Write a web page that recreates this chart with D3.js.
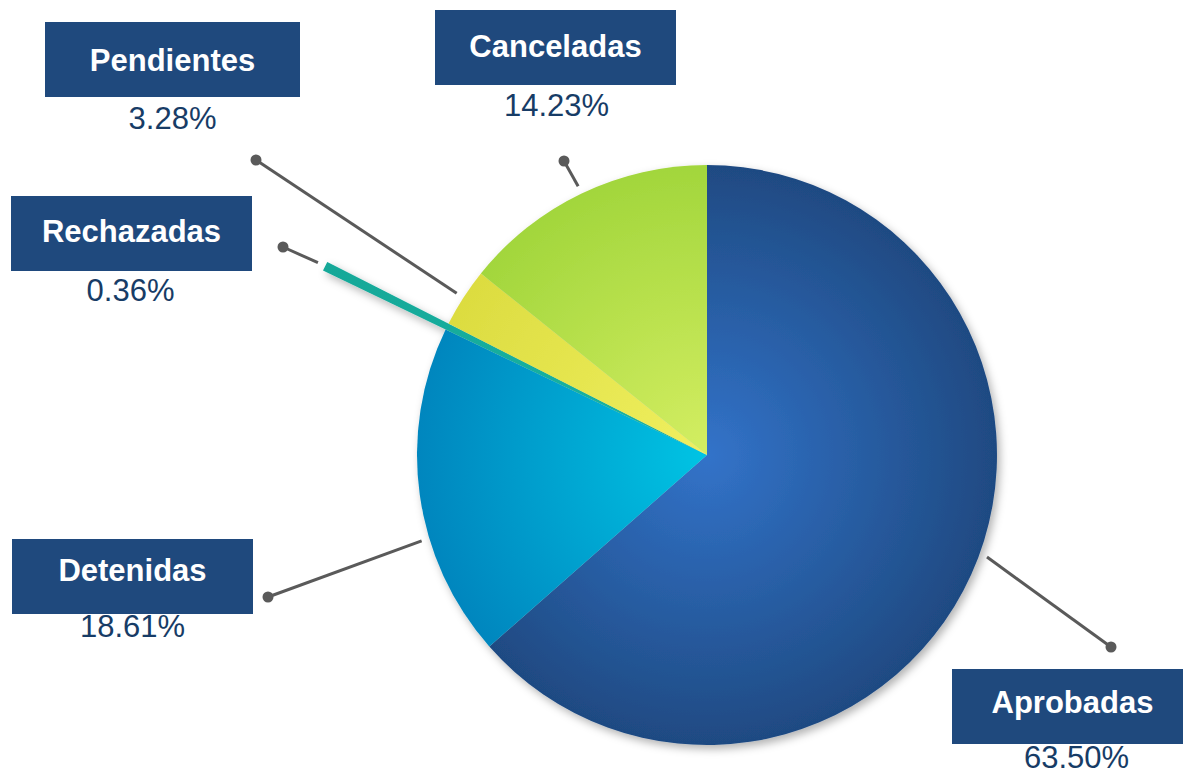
<!DOCTYPE html>
<html>
<head>
<meta charset="utf-8">
<script src="https://cdn.jsdelivr.net/npm/d3@7/dist/d3.min.js"></script>
<style>
  html, body { margin: 0; padding: 0; background: #ffffff; }
  svg { display: block; }
  text { font-family: "Liberation Sans", Arial, sans-serif; }
</style>
</head>
<body>
<svg id="chart" width="1183" height="773"></svg>
<script>
// Request status shares (%), clockwise from 12 o'clock
const categories = ["Aprobadas", "Detenidas", "Rechazadas", "Pendientes", "Canceladas"];
const values = [63.50, 18.61, 0.36, 3.28, 14.23];
const valueLabels = ["63.50%", "18.61%", "0.36%", "3.28%", "14.23%"];

// Slice fills: inner / outer stops of each radial gradient
const innerColors = ["#3273c9", "#00c4e4", "#18b4a4", "#f0f060", "#d4ee62"];
const outerColors = ["#1f4a82", "#0086be", "#12a898", "#dcdc40", "#a2d63c"];

// Annotation layout: label box, text offsets, leader anchor (angle nudge) and dot
const labelLayout = [
  { box: [952, 669, 241, 75], nameDy: 44, pctDy: 99, pctDx: 4,  nudge: -4.3, dot: [1111, 647] },
  { box: [12, 539, 241, 75],  nameDy: 42, pctDy: 98, pctDx: 0,  nudge: -8.9, dot: [268, 597] },
  { box: [11, 196, 241, 75],  nameDy: 46, pctDy: 105, pctDx: -1, nudge: 0,    dot: [283, 247] },
  { box: [45, 22, 255, 75],   nameDy: 49, pctDy: 107, pctDx: 0,  nudge: 0,    dot: [256, 160] },
  { box: [435, 10, 241, 75],  nameDy: 47, pctDy: 106, pctDx: 1,  nudge: 0,    dot: [564, 161] }
];

const highlightIndex = 2;   // Rechazadas is drawn reaching past the rim
const highlightExtra = 136;

const svg = d3.select("#chart");
const cx = 707, cy = 455, R = 290;

const defs = svg.append("defs");
const shadow = defs.append("filter").attr("id", "pieShadow")
  .attr("x", "-20%").attr("y", "-20%").attr("width", "140%").attr("height", "140%");
shadow.append("feDropShadow")
  .attr("dx", 3).attr("dy", 4).attr("stdDeviation", 4)
  .attr("flood-color", "#000").attr("flood-opacity", 0.3);

// Gradients live in the pie group's own coordinates (origin = pie centre)
categories.forEach((c, i) => {
  const g = defs.append("radialGradient")
    .attr("id", "grad" + i)
    .attr("gradientUnits", "userSpaceOnUse")
    .attr("cx", 0).attr("cy", 0).attr("r", i === highlightIndex ? R + highlightExtra : R);
  g.append("stop").attr("offset", "0%").attr("stop-color", innerColors[i]);
  g.append("stop").attr("offset", "100%").attr("stop-color", outerColors[i]);
});

const pie = d3.pie().sort(null).value(d => d.value);
const data = pie(categories.map((c, i) => ({ name: c, value: values[i], label: valueLabels[i], idx: i })));
const arc = d3.arc().innerRadius(0)
  .outerRadius(d => d.data.idx === highlightIndex ? R + highlightExtra : R);

const pieG = svg.append("g")
  .attr("transform", `translate(${cx},${cy})`)
  .attr("filter", "url(#pieShadow)");

pieG.selectAll("path.slice")
  .data(data)
  .join("path")
  .attr("class", "slice")
  .attr("d", arc)
  .attr("fill", d => `url(#grad${d.data.idx})`);

// Leader lines and labels
const lineColor = "#5a5a5a";
const annG = svg.append("g");

data.forEach(d => {
  const i = d.data.idx;
  const L = labelLayout[i];
  const mid = (d.startAngle + d.endAngle) / 2 + L.nudge * Math.PI / 180;
  const rStart = (i === highlightIndex ? R + highlightExtra : R) + 8;
  const sx = cx + Math.sin(mid) * rStart;
  const sy = cy - Math.cos(mid) * rStart;

  annG.append("line")
    .attr("x1", sx).attr("y1", sy)
    .attr("x2", L.dot[0]).attr("y2", L.dot[1])
    .attr("stroke", lineColor).attr("stroke-width", 3);
  annG.append("circle")
    .attr("cx", L.dot[0]).attr("cy", L.dot[1]).attr("r", 5.5)
    .attr("fill", lineColor);

  const [bx, by, bw, bh] = L.box;
  annG.append("rect")
    .attr("x", bx).attr("y", by).attr("width", bw).attr("height", bh)
    .attr("fill", "#1f497d");
  annG.append("text")
    .attr("x", bx + bw / 2).attr("y", by + L.nameDy)
    .attr("text-anchor", "middle")
    .attr("font-size", 31).attr("font-weight", "bold")
    .attr("fill", "#ffffff")
    .text(d.data.name);
  annG.append("text")
    .attr("x", bx + bw / 2 + L.pctDx).attr("y", by + L.pctDy)
    .attr("text-anchor", "middle")
    .attr("font-size", 31)
    .attr("fill", "#173c66")
    .text(d.data.label);
});
</script>
</body>
</html>
